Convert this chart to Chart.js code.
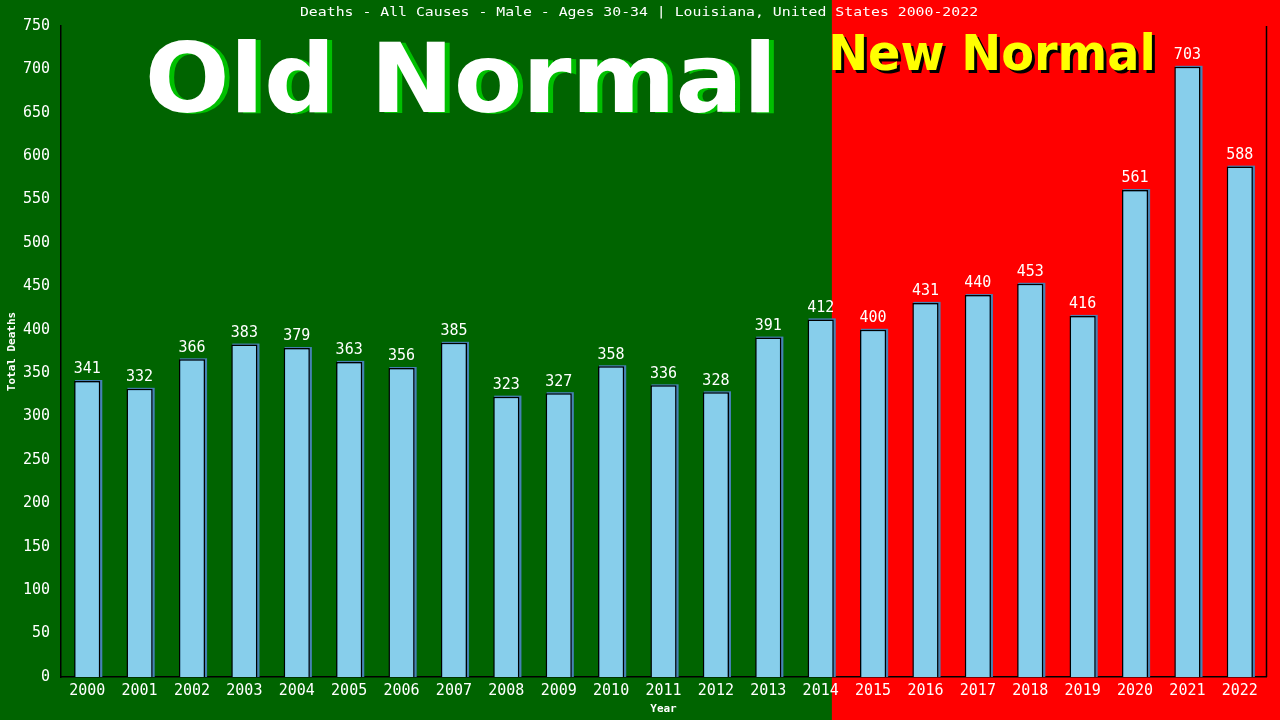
<!DOCTYPE html>
<html><head><meta charset="utf-8">
<script src="https://cdn.jsdelivr.net/npm/chart.js@4.4.0/dist/chart.umd.min.js"></script>
<style>html,body{margin:0;padding:0;background:#006400;}#wrap{width:1280px;height:720px;position:relative;}</style>
</head><body><div id="wrap"><canvas id="c" width="1280" height="720"></canvas></div>
<script>
const years = ["2000","2001","2002","2003","2004","2005","2006","2007","2008","2009","2010","2011","2012","2013","2014","2015","2016","2017","2018","2019","2020","2021","2022"];
const deaths = [341,332,366,383,379,363,356,385,323,327,358,336,328,391,412,400,431,440,453,416,561,703,588];
const titleText = "Deaths - All Causes - Male - Ages 30-34 | Louisiana, United States 2000-2022";
const yTitle = "Total Deaths";
const xTitle = "Year";
const oldLabel = "Old Normal";
const newLabel = "New Normal";
const splitIndex = 15;

const mono = "'DejaVu Sans Mono', monospace";

function scaledText(ctx, text, cx, y, sx) {
  ctx.save();
  ctx.translate(cx, y);
  ctx.scale(sx, 1);
  ctx.fillText(text, 0, 0);
  ctx.restore();
}

const bgPlugin = {
  id: 'bg',
  beforeDraw(chart) {
    const ctx = chart.ctx, xs = chart.scales.x;
    const split = (xs.getPixelForValue(splitIndex - 1) + xs.getPixelForValue(splitIndex)) / 2 - 15;
    ctx.save();
    ctx.fillStyle = '#006400';
    ctx.fillRect(0, 0, split, chart.height);
    ctx.fillStyle = '#ff0000';
    ctx.fillRect(split, 0, chart.width - split, chart.height);
    // Old Normal
    ctx.font = "bold 96px 'DejaVu Sans'";
    ctx.textBaseline = 'alphabetic';
    ctx.textAlign = 'center';
    ctx.fillStyle = '#00c000';
    scaledText(ctx, oldLabel, 466, 113, 1.04);
    ctx.fillStyle = '#ffffff';
    scaledText(ctx, oldLabel, 461, 112, 1.04);
    // New Normal
    ctx.font = "bold 50px 'DejaVu Sans'";
    ctx.fillStyle = '#000000';
    scaledText(ctx, newLabel, 995, 73, 0.955);
    ctx.fillStyle = '#ffff00';
    scaledText(ctx, newLabel, 992, 70, 0.955);
    // title
    ctx.font = "13px " + mono;
    ctx.fillStyle = '#ffffff';
    ctx.textBaseline = 'middle';
    scaledText(ctx, titleText, 639, 13, 1.14);
    ctx.restore();
  },
  beforeDatasetsDraw(chart) {
    const ctx = chart.ctx;
    const meta = chart.getDatasetMeta(0);
    ctx.save();
    ctx.fillStyle = '#4682b4';
    meta.data.forEach(b => {
      const w = b.width;
      ctx.fillRect(b.x - w/2 + 1, b.y - 1, w + 1, b.base - b.y + 1);
    });
    ctx.restore();
  },
  afterDatasetsDraw(chart) {
    const ctx = chart.ctx, a = chart.chartArea;
    const meta = chart.getDatasetMeta(0);
    ctx.save();
    ctx.font = "15px " + mono;
    ctx.fillStyle = '#ffffff';
    ctx.textAlign = 'center';
    ctx.textBaseline = 'bottom';
    meta.data.forEach((b, i) => {
      ctx.fillText(String(deaths[i]), b.x, b.y - 4);
    });
    ctx.strokeStyle = '#000';
    ctx.lineWidth = 1.5;
    ctx.beginPath();
    ctx.moveTo(a.right + 0.5, a.top);
    ctx.lineTo(a.right + 0.5, a.bottom);
    ctx.stroke();
    ctx.restore();
  }
};

new Chart(document.getElementById('c'), {
  type: 'bar',
  data: {
    labels: years,
    datasets: [{
      data: deaths,
      backgroundColor: '#87ceeb',
      borderColor: '#000000',
      borderWidth: {top: 1.5, left: 1.5, right: 1.5, bottom: 0},
      barPercentage: 0.5,
      categoryPercentage: 1.0
    }]
  },
  options: {
    responsive: false,
    animation: false,
    devicePixelRatio: 1,
    layout: { padding: { left: 0, right: 14, top: 26, bottom: 0 } },
    plugins: { legend: { display: false }, tooltip: { enabled: false } },
    scales: {
      x: {
        afterFit: s => { s.height = 43; },
        grid: { display: false, drawTicks: false },
        border: { color: '#000', width: 1.5 },
        ticks: { color: '#fff', font: { family: mono, size: 15 }, padding: 5, maxRotation: 0 },
        title: { display: true, text: xTitle, color: '#fff', font: { family: mono, size: 11, weight: 'bold' }, padding: { top: 0, bottom: 4 } }
      },
      y: {
        min: 0, max: 750,
        afterFit: s => { s.width = 61; },
        grid: { display: false, drawTicks: true, tickLength: 7, tickColor: '#000' },
        border: { color: '#000', width: 1.5 },
        ticks: { stepSize: 50, color: '#fff', font: { family: mono, size: 15 }, padding: 4 },
        title: { display: true, text: yTitle, color: '#fff', font: { family: mono, size: 11, weight: 'bold' }, padding: { top: 6, bottom: 2 } }
      }
    }
  },
  plugins: [bgPlugin]
});
</script></body></html>
